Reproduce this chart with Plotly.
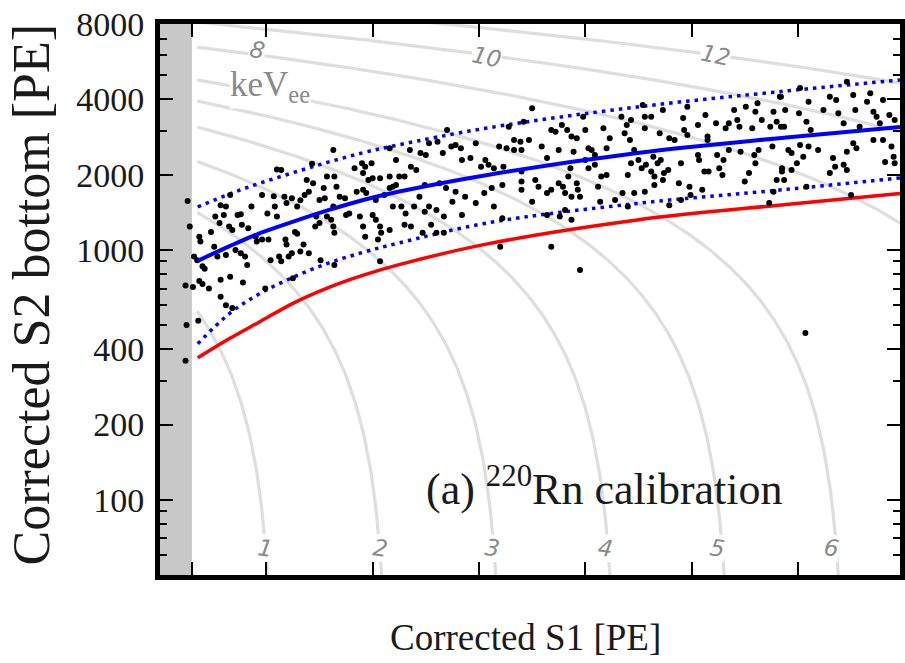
import numpy as np
import plotly.graph_objects as go

# ---------------- data ----------------
# Rn-220 calibration events: corrected S1 [PE] and corrected S2 bottom [PE]
event_s1 = [
    # S1 ~ 2-16 PE
    11.0, 11.4, 14.3, 6.6, 5.7, 6.2, 5.2, 6.0, 7.3, 7.6, 5.6, 6.5, 6.8, 7.7, 8.3, 8.6, 9.6, 10.7, 10.1, 10.8,
    11.0, 11.7, 11.9, 12.4, 12.9, 13.2, 13.6, 14.0, 14.4, 15.4, 15.5, 14.7, 14.6, 15.0, 15.7, 3.7, 3.8, 4.8, 5.1, 5.4,
    6.2, 7.1, 7.6, 8.0, 8.2, 9.0, 9.1, 9.6, 10.2, 10.4, 11.2, 11.4, 11.8, 11.9, 12.1, 12.4, 12.7, 12.9, 13.2, 13.5,
    14.0, 15.1, 3.5, 4.0, 4.2, 3.7, 4.0, 4.6, 5.7, 6.6, 7.8, 5.7, 6.2, 6.8, 3.6, 9.9, 12.5, 2.6, 2.8, 2.4,
    3.1, 2.5, 2.4, 3.2, 13.8, 15.7, 15.0,
    # S1 ~ 16-31 PE
    16.3, 16.4, 16.6, 16.9, 17.4, 17.8, 16.1, 16.3, 16.4, 16.4, 18.3, 19.0, 19.3, 19.9, 19.1, 19.6, 20.0, 20.7, 21.6, 22.2,
    21.6, 22.5, 23.0, 23.6, 24.1, 23.5, 24.5, 25.0, 25.3, 26.1, 26.6, 27.0, 27.4, 27.8, 28.3, 28.4, 29.7, 29.2, 30.2, 30.6,
    18.5, 19.1, 19.4, 20.3, 21.1, 21.6, 21.9, 22.2, 18.8, 19.1, 19.3, 20.0, 20.3, 20.7, 20.8, 21.6, 20.5, 21.9, 22.7, 23.1,
    23.9, 24.4, 24.9, 25.3, 23.0, 23.6, 24.7, 25.5, 26.0, 26.7, 26.0, 26.7, 27.5, 27.8, 28.4, 28.7, 29.7, 30.5, 26.3, 26.9,
    24.9, 20.7, 16.3, 17.5,
    # S1 ~ 31-45 PE
    35.0, 34.2, 32.8, 33.3, 33.9, 34.7, 33.3, 34.0, 31.9, 35.9, 36.4, 36.8, 37.2, 37.5, 37.8, 38.3, 38.7, 39.2, 38.9, 39.8,
    40.0, 40.3, 40.6, 40.9, 41.7, 42.0, 42.3, 43.4, 43.9, 44.3, 43.7, 44.2, 44.6, 30.9, 31.4, 32.3, 31.2, 32.2, 34.0, 34.0,
    34.0, 35.3, 35.6, 36.4, 36.8, 37.5, 37.9, 38.4, 38.6, 38.1, 38.7, 39.2, 39.3, 39.5, 40.0, 40.3, 40.9, 41.5, 42.0, 41.2,
    41.4, 42.8, 43.5, 44.0, 44.3, 44.6, 44.0, 31.4, 32.2, 35.0, 36.4, 37.6, 38.1, 38.7, 32.0, 36.8, 39.5, 32.6,
    # S1 ~ 45-59 PE
    45.4, 45.6, 46.2, 47.3, 49.6, 45.6, 47.0, 47.9, 48.4, 49.2, 49.3, 49.6, 50.6, 51.3, 51.5, 51.5, 52.3, 53.2, 53.5, 54.0,
    54.3, 54.5, 55.1, 55.7, 56.0, 56.2, 56.6, 57.4, 57.7, 58.3, 58.0, 58.7, 45.0, 45.3, 45.7, 46.4, 46.8, 47.1, 46.5, 46.2,
    47.4, 47.8, 47.3, 46.5, 45.6, 49.0, 48.8, 49.8, 50.6, 50.7, 51.2, 51.6, 52.4, 52.6, 52.9, 53.0, 53.5, 54.6, 55.0, 55.4,
    55.9, 56.0, 56.3, 57.6, 58.5, 58.0, 58.7, 49.9, 51.0, 47.9, 49.0, 57.3, 57.7,
    # S1 ~ 58-70 PE
    60.2, 64.6, 58.4, 61.0, 63.0, 63.6, 65.2, 66.8, 68.0, 58.8, 60.1, 62.4, 63.8, 65.4, 66.5, 67.1, 67.4, 68.6, 69.1, 58.4,
    60.8, 61.2, 64.3, 65.8, 67.7, 59.1, 59.4, 60.2, 61.0, 59.9, 60.5, 61.9, 63.3, 64.6, 65.2, 65.5, 67.1, 68.0, 68.8, 68.2,
    69.0, 69.1, 59.4, 58.5, 63.0, 63.5, 64.6, 64.3, 60.8, 65.0, 60.7,
]
event_s2 = [
    2100, 2090, 2210, 1660, 1510, 1490, 1360, 1380, 1380, 1390, 1280, 1240, 1200, 1260, 1220, 1490, 1660, 1640, 1400, 1490,
    1360, 1630, 1540, 1610, 1490, 1580, 1660, 1710, 1850, 1770, 1610, 1360, 1240, 1280, 1360, 1130, 1080, 1180, 1030, 940,
    955, 1000, 970, 940, 870, 1130, 1080, 1100, 1100, 910, 940, 900, 1100, 1050, 940, 970, 1180, 1160, 985, 1050,
    970, 910, 910, 860, 840, 750, 730, 700, 760, 780, 740, 650, 600, 585, 520, 700, 770, 1570, 1240, 720,
    710, 500, 360, 940, 1905, 1965, 1585,
    2510, 1965, 1790, 1630, 1610, 1400, 1320, 1240, 1170, 870, 2120, 2220, 2150, 2220, 2030, 1905, 1935, 1935, 1965, 2290,
    2550, 1965, 1965, 2150, 2090, 2510, 2440, 2400, 2670, 2710, 2440, 3020, 2590, 2630, 2550, 2290, 2670, 2330, 2150, 2290,
    1710, 1740, 1690, 1585, 1660, 1770, 1790, 1820, 1360, 1240, 1130, 1380, 1320, 1240, 1170, 1200, 1100, 1490, 1490, 1400,
    1490, 1630, 1420, 1490, 1260, 1240, 1170, 1260, 1445, 1360, 1170, 1170, 1560, 1710, 1380, 1630, 1540, 1690, 1850, 1770,
    1820, 900, 1490, 1380,
    3690, 3260, 3110, 2750, 2710, 2750, 2510, 2510, 2590, 2590, 2330, 3020, 2970, 2510, 3160, 3020, 2840, 2800, 2470, 3410,
    3020, 2550, 2510, 2400, 3070, 2550, 2800, 3410, 3160, 3310, 2930, 2750, 2510, 2190, 2120, 2150, 1770, 1820, 2060, 1880,
    1740, 1905, 1790, 1690, 1740, 1850, 1790, 1965, 2120, 1690, 1630, 1850, 1740, 1630, 2290, 2120, 2190, 1965, 1995, 1790,
    1560, 1585, 1690, 1995, 2220, 1690, 1490, 1490, 1340, 1560, 1380, 1360, 1445, 1320, 1030, 1030, 830, 2550,
    3800, 3410, 3410, 3630, 3740, 3070, 2930, 2800, 2750, 3370, 3020, 2880, 3160, 3470, 2840, 2750, 3210, 3070, 3210, 3630,
    3310, 3110, 3740, 3070, 3570, 3860, 3310, 3110, 3570, 4100, 3260, 3110, 2290, 2120, 2190, 2360, 2220, 2290, 1965, 2060,
    2030, 2090, 1905, 1820, 1710, 2220, 1850, 1790, 2400, 2290, 2060, 2060, 2400, 2120, 1995, 2290, 2510, 2470, 1880, 2030,
    2400, 2220, 2510, 2590, 2120, 1905, 1905, 1660, 1740, 1510, 1585, 1540, 1710,
    4440, 4710, 4100, 3920, 4100, 3980, 4170, 4240, 3980, 3630, 3520, 3630, 3520, 3630, 3920, 3570, 3410, 3470, 3310, 3110,
    3260, 3020, 3210, 3110, 3210, 2510, 2440, 2630, 2590, 2220, 2360, 2510, 2330, 2470, 2670, 2550, 2750, 2750, 2590, 2250,
    2360, 2220, 2090, 2060, 2030, 2150, 2090, 2190, 1790, 1660, 465,
]

# Band curves (median, +/- band, acceptance limit)
curve_s1 = [3.55, 6.5, 9.35, 12.6, 15.9, 19.2, 22.4, 30.8, 44.9, 58.9, 69.6]
median_s2 = [904, 1033, 1164, 1300, 1445, 1588, 1709, 1995, 2443, 2818, 3105]
upper_s2 = [1486, 1672, 1846, 2042, 2249, 2455, 2630, 3076, 3733, 4325, 4786]
lower_s2 = [421, 555, 667, 780, 887, 981, 1064, 1282, 1535, 1746, 1941]
limit_s2 = [370, 441, 515, 614, 708, 794, 871, 1057, 1318, 1520, 1683]

energy_levels = [1, 2, 3, 4, 5, 6, 8, 10, 12]
s1_per_kev = 10.74
s2_per_kev = 844.0

bottom_labels = ["1", "2", "3", "4", "5", "6"]
bottom_label_s1 = [9.9, 20.7, 31.3, 41.9, 52.4, 63.2]
bottom_label_s2 = [64, 64, 64, 64, 64, 64]
top_labels = ["8", "10", "12"]
top_label_s1 = [9.2, 30.7, 52.2]
top_label_s2 = [6310, 5915, 6026]

y_tickvals = [100, 200, 400, 1000, 2000, 4000, 8000]
y_minor = [60, 70, 80, 90, 300, 500, 600, 700, 800, 900, 3000, 5000, 6000, 7000]
x_tickvals = [3, 10, 20, 30, 40, 50, 60]

# ---------------- figure ----------------
fig = go.Figure()

for E in energy_levels:
    s1 = np.linspace(3.5, 80, 600)
    s2 = s2_per_kev * (E - s1 / s1_per_kev)
    keep = s2 > 35
    fig.add_trace(go.Scatter(x=s1[keep], y=s2[keep], mode="lines",
                             line=dict(color="#dedede", width=3.2),
                             hoverinfo="skip", showlegend=False))

fig.add_trace(go.Scatter(x=curve_s1, y=limit_s2, mode="lines",
                         line=dict(color="#ff0000", width=3.5, shape="spline", smoothing=1.0),
                         showlegend=False))
fig.add_trace(go.Scatter(x=curve_s1, y=upper_s2, mode="lines",
                         line=dict(color="#0000ff", width=3.5, dash="3.5px,5px", shape="spline", smoothing=1.0),
                         showlegend=False))
fig.add_trace(go.Scatter(x=curve_s1, y=lower_s2, mode="lines",
                         line=dict(color="#0000ff", width=3.5, dash="3.5px,5px", shape="spline", smoothing=1.0),
                         showlegend=False))
fig.add_trace(go.Scatter(x=event_s1, y=event_s2, mode="markers",
                         marker=dict(color="black", size=6), showlegend=False))
fig.add_trace(go.Scatter(x=curve_s1, y=median_s2, mode="lines",
                         line=dict(color="#0000ff", width=4, shape="spline", smoothing=1.0),
                         showlegend=False))

# shaded region below S1 threshold
fig.add_shape(type="rect", xref="x", yref="paper", x0=0, x1=3, y0=0, y1=1,
              fillcolor="#c8c8c8", line=dict(width=0), layer="below")

label_font = dict(family="DejaVu Sans", size=23, color="#8a8a8a", style="italic")
annotations = []
for t, x, y in zip(bottom_labels, bottom_label_s1, bottom_label_s2):
    annotations.append(dict(x=x, y=np.log10(y), xref="x", yref="y", text=t, showarrow=False,
                            font=label_font, bgcolor="white", borderpad=0, textangle=8))
for t, x, y in zip(top_labels, top_label_s1, top_label_s2):
    annotations.append(dict(x=x, y=np.log10(y), xref="x", yref="y", text=t, showarrow=False,
                            font=label_font, bgcolor="white", borderpad=0, textangle=12))
annotations.append(dict(x=10.3, y=np.log10(4500), xref="x", yref="y", text="keV<sub>ee</sub>", showarrow=False,
                        font=dict(family="Liberation Serif", size=35, color="#8a8a8a"), bgcolor="white", borderpad=0))
annotations.append(dict(x=41.8, y=np.log10(113), xref="x", yref="y",
                        text="(a) <sup>220</sup>Rn calibration", showarrow=False,
                        font=dict(family="Liberation Serif", size=44, color="#1a1a1a")))
annotations.append(dict(x=0.5, y=0, xref="paper", yref="paper", text="Corrected S1 [PE]", showarrow=False,
                        yanchor="middle", yshift=-62, xshift=-5,
                        font=dict(family="Liberation Serif", size=37, color="#1a1a1a")))
annotations.append(dict(x=0, y=0.5, xref="paper", yref="paper", text="Corrected S2 bottom [PE]", showarrow=False,
                        xanchor="center", textangle=-90, xshift=-129, yshift=5,
                        font=dict(family="Liberation Serif", size=52, color="#1a1a1a")))

fig.update_layout(
    width=905, height=663,
    margin=dict(l=160, r=0, t=24, b=88),
    paper_bgcolor="white", plot_bgcolor="white",
    annotations=annotations,
    font=dict(family="Liberation Serif", color="black"),
)
fig.update_xaxes(range=[0, 69.6], showgrid=False, zeroline=False,
                 tickvals=x_tickvals, showticklabels=False,
                 ticks="inside", ticklen=13, tickwidth=2, tickcolor="black",
                 showline=True, linewidth=5, linecolor="black", mirror="ticks")
fig.update_yaxes(type="log", range=[np.log10(50), 3.904], showgrid=False, zeroline=False,
                 tickvals=y_tickvals, ticktext=[str(v) for v in y_tickvals],
                 tickfont=dict(family="Liberation Serif", size=34, color="#1a1a1a"),
                 ticklabelstandoff=4,
                 ticks="inside", ticklen=13, tickwidth=2, tickcolor="black",
                 minor=dict(tickvals=y_minor, ticks="inside", ticklen=7, tickwidth=2, tickcolor="black"),
                 showline=True, linewidth=5, linecolor="black", mirror="ticks")

fig.write_html("out.html")
